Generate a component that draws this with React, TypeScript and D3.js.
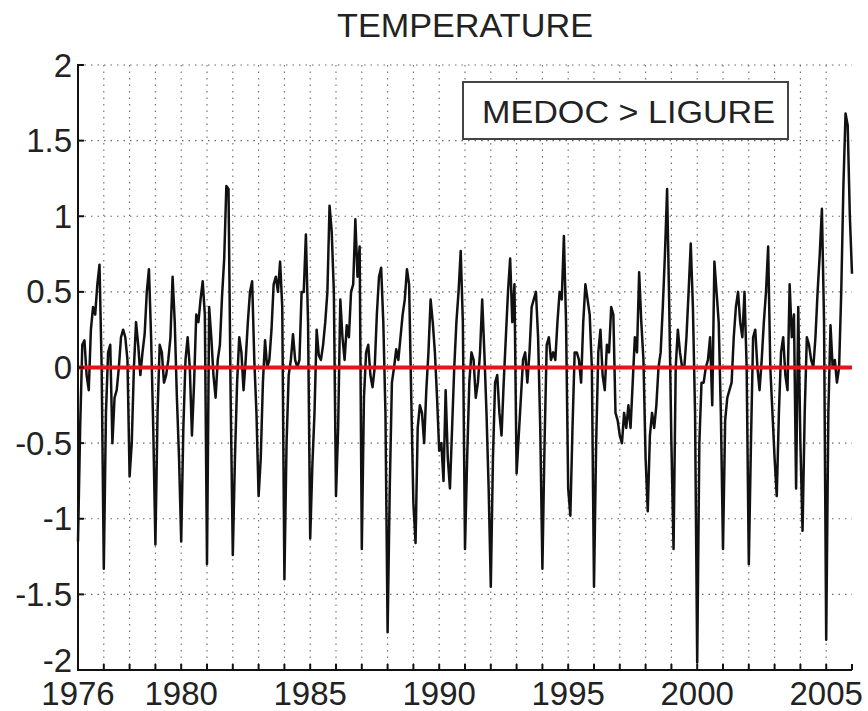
import React from "react";
import * as d3 from "d3";

// Monthly temperature anomaly, MEDOC > LIGURE, starting Jan 1976
const temp1976to1980 = [
  -1.15, -0.4, 0.15, 0.18, -0.05, -0.15, 0.25, 0.4, 0.35, 0.55, 0.68, 0.0,
  -1.33, -0.3, 0.1, 0.15, -0.5, -0.2, -0.15, 0.0, 0.2, 0.25, 0.2, 0.05,
  -0.72, -0.5, 0.0, 0.3, 0.15, -0.05, 0.1, 0.22, 0.5, 0.65, 0.2, -0.4,
  -1.17, -0.3, 0.15, 0.1, -0.1, -0.05, 0.05, 0.2, 0.6, 0.3, -0.2, -0.6,
  -1.15, -0.4, 0.05, 0.2, 0.0, -0.45, -0.1, 0.35, 0.3, 0.45, 0.57, 0.35,
];
const temp1981to1985 = [
  -1.3, 0.4, 0.2, -0.05, -0.2, 0.05, 0.15, 0.47, 0.72, 1.2, 1.18, -0.2,
  -1.24, -0.6, -0.1, 0.2, 0.1, -0.15, 0.05, 0.3, 0.5, 0.57, 0.05, -0.3,
  -0.85, -0.6, -0.1, 0.18, 0.0, 0.05, 0.25, 0.55, 0.6, 0.5, 0.7, 0.4,
  -1.4, -0.5, -0.05, 0.05, 0.22, 0.05, 0.0, 0.05, 0.5, 0.5, 0.88, 0.3,
  -1.13, -0.65, -0.3, 0.25, 0.08, 0.05, 0.15, 0.3, 0.5, 1.07, 0.9, 0.5,
];
const temp1986to1990 = [
  -0.85, -0.4, 0.45, 0.2, 0.05, 0.28, 0.2, 0.5, 0.55, 0.98, 0.6, 0.8,
  -1.2, -0.2, 0.1, 0.15, -0.05, -0.13, 0.0, 0.35, 0.6, 0.66, 0.3, -0.3,
  -1.75, -0.8, -0.1, 0.0, 0.12, 0.05, 0.2, 0.35, 0.45, 0.65, 0.55, -0.2,
  -0.9, -1.16, -0.4, -0.25, -0.3, -0.5, -0.15, 0.1, 0.45, 0.3, 0.1, -0.2,
  -0.55, -0.5, -0.75, -0.15, -0.6, -0.8, -0.4, 0.0, 0.3, 0.5, 0.77, 0.3,
];
const temp1991to1995 = [
  -1.2, -0.6, -0.1, 0.1, 0.05, -0.2, -0.1, 0.1, 0.45, 0.1, -0.3, -0.8,
  -1.45, -0.6, -0.1, -0.05, -0.3, -0.45, -0.1, 0.2, 0.5, 0.72, 0.3, 0.55,
  -0.7, -0.45, -0.2, 0.05, 0.1, -0.1, 0.1, 0.4, 0.45, 0.5, 0.2, -0.4,
  -1.33, -0.5, 0.15, 0.2, 0.05, 0.1, 0.05, 0.3, 0.5, 0.45, 0.87, 0.3,
  -0.8, -0.98, -0.4, 0.1, 0.1, 0.05, -0.1, 0.3, 0.55, 0.45, 0.35, 0.0,
];
const temp1996to2000 = [
  -1.45, -0.5, 0.1, 0.25, -0.05, -0.15, 0.15, 0.1, 0.4, 0.35, -0.3, -0.35,
  -0.45, -0.5, -0.3, -0.4, -0.25, -0.4, -0.1, 0.2, 0.1, 0.63, 0.3, 0.05,
  -0.6, -0.95, -0.45, -0.3, -0.4, -0.25, 0.0, 0.1, 0.4, 0.75, 1.18, 0.4,
  -0.5, -1.2, 0.0, 0.25, 0.1, 0.0, 0.0, 0.2, 0.5, 0.82, 0.4, -0.3,
  -1.95, -0.5, -0.1, -0.1, 0.0, 0.05, 0.2, -0.25, 0.7, 0.5, 0.3, -0.3,
];
const temp2001to2006 = [
  -1.2, -0.35, -0.2, -0.15, -0.1, 0.2, 0.4, 0.5, 0.3, 0.2, 0.5, 0.0,
  -1.3, -0.5, 0.2, 0.25, 0.0, -0.15, 0.05, 0.3, 0.5, 0.8, 0.0, -0.3,
  -0.6, -0.85, -0.3, 0.1, 0.2, -0.05, -0.15, 0.55, 0.2, 0.35, -0.8, 0.4,
  -0.5, -1.08, -0.3, 0.2, 0.15, 0.05, 0.0, 0.2, 0.5, 0.75, 1.05, 0.3,
  -1.8, -0.3, 0.28, 0.0, 0.05, -0.1, 0.0, 0.5, 1.2, 1.68, 1.6, 1.0,
  0.62,
];

const startYear = 1976;
const xLabelYears = [1976, 1980, 1985, 1990, 1995, 2000, 2005];
const yTickValues = [-2, -1.5, -1, -0.5, 0, 0.5, 1, 1.5, 2];
const titleText = "TEMPERATURE";
const legendText = "MEDOC > LIGURE";

const series = [
  ...temp1976to1980,
  ...temp1981to1985,
  ...temp1986to1990,
  ...temp1991to1995,
  ...temp1996to2000,
  ...temp2001to2006,
].map((v, i) => ({ t: startYear + i / 12, v }));

const W = 868;
const H = 711;
const left = 78;
const right = 852;
const top = 65;
const bottom = 670;
const font = "'Liberation Sans', Arial, Helvetica, sans-serif";
const textColor = "#222";

export default function App() {
  const x = d3.scaleLinear().domain([1976, 2006]).range([left, right]);
  const y = d3.scaleLinear().domain([-2, 2]).range([bottom, top]);
  const years = d3.range(1976, 2007);
  const gridYears = years.filter((yr) => yr > 1976 && yr < 2006);
  const line = d3
    .line<{ t: number; v: number }>()
    .x((d) => x(d.t))
    .y((d) => y(d.v));

  return (
    <svg
      width={W}
      height={H}
      style={{ position: "absolute", left: 0, top: 0, background: "#fff" }}
    >
      <rect x={0} y={0} width={W} height={H} fill="#fff" />
      {/* grid */}
      <g stroke="#6a6a6a" strokeWidth={1.1} strokeDasharray="1.5,5">
        {gridYears.map((yr) => (
          <line key={"gx" + yr} x1={x(yr)} x2={x(yr)} y1={y(2)} y2={y(-2)} />
        ))}
        {yTickValues
          .filter((v) => v > -2)
          .map((v) => (
            <line key={"gy" + v} x1={x(1976)} x2={x(2006)} y1={y(v)} y2={y(v)} />
          ))}
      </g>
      {/* data line */}
      <path
        d={line(series) || ""}
        fill="none"
        stroke="#111"
        strokeWidth={2.5}
        strokeLinejoin="round"
      />
      {/* zero line */}
      <line
        x1={x(1976)}
        x2={x(2006)}
        y1={y(0)}
        y2={y(0)}
        stroke="#e8121a"
        strokeWidth={4}
      />
      {/* axes */}
      <g stroke="#111" strokeWidth={2}>
        <line x1={left} x2={left} y1={y(2) - 1} y2={y(-2) + 1} />
        <line x1={left - 1} x2={x(2006)} y1={bottom} y2={bottom} />
        {yTickValues.map((v) => (
          <line key={"ty" + v} x1={left} x2={left + 6} y1={y(v)} y2={y(v)} />
        ))}
        {years.map((yr) => (
          <line key={"tx" + yr} x1={x(yr)} x2={x(yr)} y1={bottom} y2={bottom - 6} />
        ))}
      </g>
      {/* y labels (lowest label lifted above the x labels) */}
      <g fontFamily={font} fontSize={33} fill={textColor} textAnchor="end">
        {yTickValues.map((v) => (
          <text key={"ly" + v} x={left - 6} y={v === -2 ? y(v) + 1.5 : y(v) + 11.5}>
            {String(v)}
          </text>
        ))}
      </g>
      {/* x labels */}
      <g fontFamily={font} fontSize={33} fill={textColor} textAnchor="middle">
        {xLabelYears.map((yr) => (
          <text key={"lx" + yr} x={x(yr)} y={705}>
            {String(yr)}
          </text>
        ))}
      </g>
      {/* title */}
      <text
        x={(left + right) / 2}
        y={37}
        fontFamily={font}
        fontSize={34}
        fill={textColor}
        textAnchor="middle"
        textLength={256}
        lengthAdjust="spacingAndGlyphs"
      >
        {titleText}
      </text>
      {/* legend */}
      <rect
        x={463}
        y={82}
        width={325}
        height={57}
        fill="#fff"
        stroke="#444"
        strokeWidth={2}
      />
      <text
        x={482}
        y={123}
        fontFamily={font}
        fontSize={32}
        fill={textColor}
        textLength={293}
        lengthAdjust="spacingAndGlyphs"
      >
        {legendText}
      </text>
    </svg>
  );
}
